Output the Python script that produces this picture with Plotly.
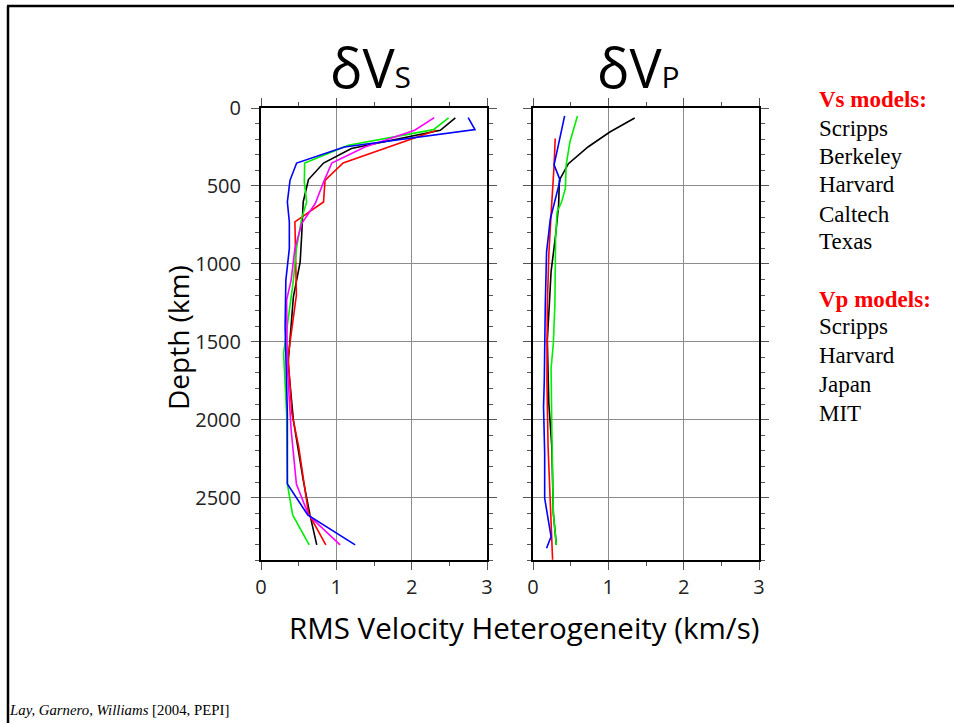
import plotly.graph_objects as go

W, H = 954, 723

# ---------------- data ----------------
vs_names = ["Scripps", "Berkeley", "Harvard", "Caltech", "Texas"]
vs_colors = ["#000000", "#ff0000", "#00ee00", "#ff00ff", "#0000ff"]

vs_black_depth = [64, 143, 260, 353, 459, 603, 816, 987, 1211, 1639, 2003, 2386, 2611, 2803]
vs_black_val = [2.58, 2.38, 1.20, 0.83, 0.63, 0.56, 0.54, 0.52, 0.43, 0.36, 0.43, 0.56, 0.65, 0.74]

vs_red_depth = [143, 353, 464, 603, 731, 902, 1200, 1596, 1959, 2173, 2600, 2803]
vs_red_val = [2.33, 1.09, 0.85, 0.83, 0.45, 0.46, 0.47, 0.36, 0.41, 0.50, 0.63, 0.86]

vs_green_depth = [64, 139, 239, 353, 474, 603, 709, 902, 1104, 1575, 1959, 2412, 2611, 2803]
vs_green_val = [2.49, 2.29, 1.16, 0.58, 0.575, 0.606, 0.54, 0.47, 0.43, 0.30, 0.34, 0.35, 0.42, 0.64]

vs_magenta_depth = [62, 143, 250, 353, 464, 613, 741, 902, 1104, 1233, 1660, 2066, 2412, 2611, 2803]
vs_magenta_val = [2.30, 2.04, 1.38, 0.94, 0.84, 0.72, 0.54, 0.45, 0.40, 0.34, 0.35, 0.40, 0.47, 0.63, 1.05]

vs_blue_depth = [62, 139, 250, 353, 464, 603, 731, 902, 1104, 1404, 1959, 2412, 2611, 2803]
vs_blue_val = [2.75, 2.84, 1.106, 0.473, 0.385, 0.35, 0.376, 0.376, 0.33, 0.32, 0.35, 0.35, 0.62, 1.25]

vp_names = ["Scripps", "Harvard", "Japan", "MIT"]
vp_colors = ["#000000", "#ff0000", "#00ee00", "#0000ff"]

vp_black_depth = [64, 154, 250, 357, 463, 623, 816, 1050, 1267, 1489, 1895, 2173, 2600, 2803]
vp_black_val = [1.35, 1.02, 0.73, 0.47, 0.35, 0.34, 0.30, 0.24, 0.216, 0.19, 0.21, 0.25, 0.27, 0.31]

vp_red_depth = [196, 367, 683, 940, 1267, 1746, 2173, 2600, 2899]
vp_red_val = [0.295, 0.28, 0.24, 0.21, 0.19, 0.185, 0.20, 0.23, 0.26]

vp_green_depth = [51, 218, 367, 516, 602, 666, 837, 1267, 1511, 1671, 2066, 2600, 2803]
vp_green_val = [0.59, 0.49, 0.44, 0.43, 0.38, 0.32, 0.30, 0.29, 0.27, 0.24, 0.25, 0.27, 0.31]

vp_blue_depth = [51, 365, 463, 712, 925, 1267, 1746, 1917, 2216, 2504, 2750, 2825]
vp_blue_val = [0.42, 0.28, 0.36, 0.23, 0.18, 0.163, 0.15, 0.14, 0.155, 0.155, 0.24, 0.18]

x_ticks = [0, 1, 2, 3]
y_ticks = [0, 500, 1000, 1500, 2000, 2500]

legend_vs_title = "Vs models:"
legend_vp_title = "Vp models:"
citation_italic = "Lay, Garnero, Williams"
citation_rest = " [2004, PEPI]"

# ---------------- figure ----------------
fig = go.Figure()

vs_sets = [
    (vs_black_val, vs_black_depth), (vs_red_val, vs_red_depth),
    (vs_green_val, vs_green_depth), (vs_magenta_val, vs_magenta_depth),
    (vs_blue_val, vs_blue_depth),
]
for (v, d), c, n in zip(vs_sets, vs_colors, vs_names):
    fig.add_trace(go.Scatter(x=v, y=d, mode="lines", name=n,
                             line=dict(color=c, width=1.6),
                             xaxis="x", yaxis="y", showlegend=False))

vp_sets = [
    (vp_black_val, vp_black_depth), (vp_red_val, vp_red_depth),
    (vp_green_val, vp_green_depth), (vp_blue_val, vp_blue_depth),
]
for (v, d), c, n in zip(vp_sets, vp_colors, vp_names):
    fig.add_trace(go.Scatter(x=v, y=d, mode="lines", name=n,
                             line=dict(color=c, width=1.6),
                             xaxis="x2", yaxis="y2", showlegend=False))


def px(x):
    return x / W


def py(y):
    return 1 - y / H


tick_font = dict(family="Open Sans", size=20, color="#222222")
common_x = dict(range=[0, 3], tickvals=x_ticks, ticks="outside", ticklen=8,
                tickwidth=1, tickcolor="#555555", showline=True, linecolor="#000000",
                linewidth=2, mirror="allticks", showgrid=True, gridcolor="#8c8c8c",
                gridwidth=1, zeroline=False, tickfont=tick_font, automargin=False,
                minor=dict(dtick=0.5, tick0=0, ticks="outside", ticklen=4,
                           tickcolor="#555555", showgrid=False))
common_y = dict(range=[2900, 0], tickvals=y_ticks, ticks="outside", ticklen=8,
                tickwidth=1, tickcolor="#555555", showline=True, linecolor="#000000",
                linewidth=2, mirror="allticks", showgrid=True, gridcolor="#8c8c8c",
                gridwidth=1, zeroline=False, tickfont=tick_font, automargin=False,
                minor=dict(dtick=100, tick0=0, ticks="outside", ticklen=4,
                           tickcolor="#555555", showgrid=False))

fig.update_layout(
    width=W, height=H,
    margin=dict(l=0, r=0, t=0, b=0, autoexpand=False),
    paper_bgcolor="white", plot_bgcolor="white",
    xaxis=dict(domain=[px(261), px(487)], anchor="y", **common_x),
    yaxis=dict(domain=[py(560), py(108)], anchor="x", ticklabelstandoff=6, **common_y),
    xaxis2=dict(domain=[px(533), px(759)], anchor="y2", **common_x),
    yaxis2=dict(domain=[py(560), py(108)], anchor="x2", showticklabels=False, **common_y),
)

anns = []
# panel titles
anns.append(dict(x=px(370), y=py(67), xref="paper", yref="paper", showarrow=False,
                 xanchor="center", yanchor="middle",
                 text='δV<span style="font-size:30px">S</span>',
                 font=dict(family="Open Sans", size=54, color="#000000")))
anns.append(dict(x=px(638), y=py(67), xref="paper", yref="paper", showarrow=False,
                 xanchor="center", yanchor="middle",
                 text='δV<span style="font-size:30px">P</span>',
                 font=dict(family="Open Sans", size=54, color="#000000")))
# axis titles
anns.append(dict(x=px(178), y=py(338), xref="paper", yref="paper", showarrow=False,
                 xanchor="center", yanchor="middle", textangle=-90,
                 text="Depth (km)", font=dict(family="Open Sans", size=28, color="#000000")))
anns.append(dict(x=px(524), y=py(627), xref="paper", yref="paper", showarrow=False,
                 xanchor="center", yanchor="middle",
                 text="RMS Velocity Heterogeneity (km/s)",
                 font=dict(family="Open Sans", size=29.5, color="#000000")))

# legend text
serif = "Liberation Serif"
legend_lines = [
    (legend_vs_title, 99, True),
    ("Scripps", 127, False), ("Berkeley", 155, False), ("Harvard", 184, False),
    ("Caltech", 213, False), ("Texas", 241, False),
    (legend_vp_title, 298, True),
    ("Scripps", 326, False), ("Harvard", 354, False), ("Japan", 383, False),
    ("MIT", 412, False),
]
for txt, yy, is_title in legend_lines:
    if is_title:
        t = "<b>%s</b>" % txt
        col = "#ff0000"
    else:
        t = txt
        col = "#000000"
    anns.append(dict(x=px(817), y=py(yy + 1), xref="paper", yref="paper", showarrow=False,
                     xanchor="left", yanchor="middle", text=t,
                     font=dict(family=serif, size=23, color=col)))

# citation
anns.append(dict(x=px(7), y=py(710), xref="paper", yref="paper", showarrow=False,
                 xanchor="left", yanchor="middle",
                 text="<i>%s</i>%s" % (citation_italic, citation_rest),
                 font=dict(family=serif, size=14.8, color="#000000")))

fig.update_layout(annotations=anns)

# slide frame (top and left edges)
fig.add_shape(type="line", xref="paper", yref="paper", x0=px(7), x1=1, y0=py(6), y1=py(6),
              line=dict(color="#000000", width=2.5))
fig.add_shape(type="line", xref="paper", yref="paper", x0=px(8), x1=px(8), y0=py(6), y1=0,
              line=dict(color="#000000", width=2.5))

fig.write_html("out.html")
